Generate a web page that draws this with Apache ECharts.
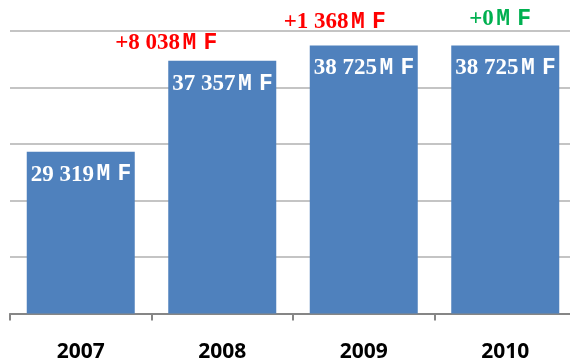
<!DOCTYPE html>
<html>
<head>
<meta charset="utf-8">
<script src="https://cdn.jsdelivr.net/npm/echarts@6/dist/echarts.min.js"></script>
<style>
    html, body { margin: 0; padding: 0; background: #fff; }
    #chart { width: 570px; height: 360px; }
</style>
</head>
<body>
<div id="chart"></div>
<script>
    // données
    const years = ['2007', '2008', '2009', '2010'];
    const revenue = [29319, 37357, 38725, 38725];
    const changes = [null, 8038, 1368, 0];
    const yMin = 15000, yMax = 40000, yStep = 5000;

    // décalage des étiquettes de variation (style)
    const changePos = [null, [-53, -29], [-26, -34], [18, -37]];

    const fmt = n => String(n).replace(/\B(?=(\d{3})+(?!\d))/g, ' ');
    const unit = '{s| }{u|M}{g| }{u|F}';

    const chart = echarts.init(document.getElementById('chart'));

    const numStyle = {
        fontFamily: '"Liberation Serif"',
        fontWeight: 'bold', fontSize: 23, lineHeight: 22
    };
    const unitStyle = {
        fontFamily: '"Liberation Mono"',
        fontWeight: 'bold', fontSize: 23, lineHeight: 22
    };
    const gapStyle = { fontFamily: '"Liberation Mono"', fontSize: 12, lineHeight: 22 };
    const smallGap = { fontFamily: '"Liberation Mono"', fontSize: 4, lineHeight: 22 };

    const option = {
        animation: false,
        grid: { left: 10, right: -6, top: 31, bottom: 46.5, outerBoundsMode: 'none' },
        xAxis: {
            type: 'category',
            data: years,
            axisLine: { lineStyle: { color: '#868686', width: 2 } },
            axisTick: { show: true, length: 7, lineStyle: { color: '#868686', width: 2 } },
            axisLabel: {
                color: '#000', fontFamily: '"Noto Sans"', fontWeight: 'bold',
                fontSize: 21, margin: 28
            }
        },
        yAxis: {
            type: 'value',
            min: yMin, max: yMax, interval: yStep,
            axisLabel: { show: false },
            axisLine: { show: false },
            axisTick: { show: false },
            splitLine: { lineStyle: { color: '#c4c4c4', width: 2 } }
        },
        series: [
            {
                type: 'bar',
                data: revenue,
                barWidth: 108,
                itemStyle: { color: '#4f81bd' },
                label: {
                    show: true,
                    position: [4, 12],
                    align: 'left',
                    verticalAlign: 'top',
                    color: '#fff',
                    formatter: p => `{n|${fmt(p.value)}}${unit}`,
                    rich: { n: numStyle, u: unitStyle, g: gapStyle, s: smallGap }
                }
            },
            {
                type: 'bar',
                barGap: '-100%',
                barWidth: 108,
                silent: true,
                itemStyle: { color: 'transparent' },
                data: revenue.map((v, i) => changes[i] === null ? { value: v, label: { show: false } } : {
                    value: v,
                    label: {
                        show: true,
                        position: changePos[i],
                        color: changes[i] > 0 ? '#ff0000' : '#00b050'
                    }
                }),
                label: {
                    align: 'left',
                    verticalAlign: 'top',
                    formatter: p => `{n|+${fmt(changes[p.dataIndex])}}${unit}`,
                    rich: { n: numStyle, u: unitStyle, g: gapStyle, s: smallGap }
                }
            }
        ]
    };

    chart.setOption(option);
</script>
</body>
</html>
